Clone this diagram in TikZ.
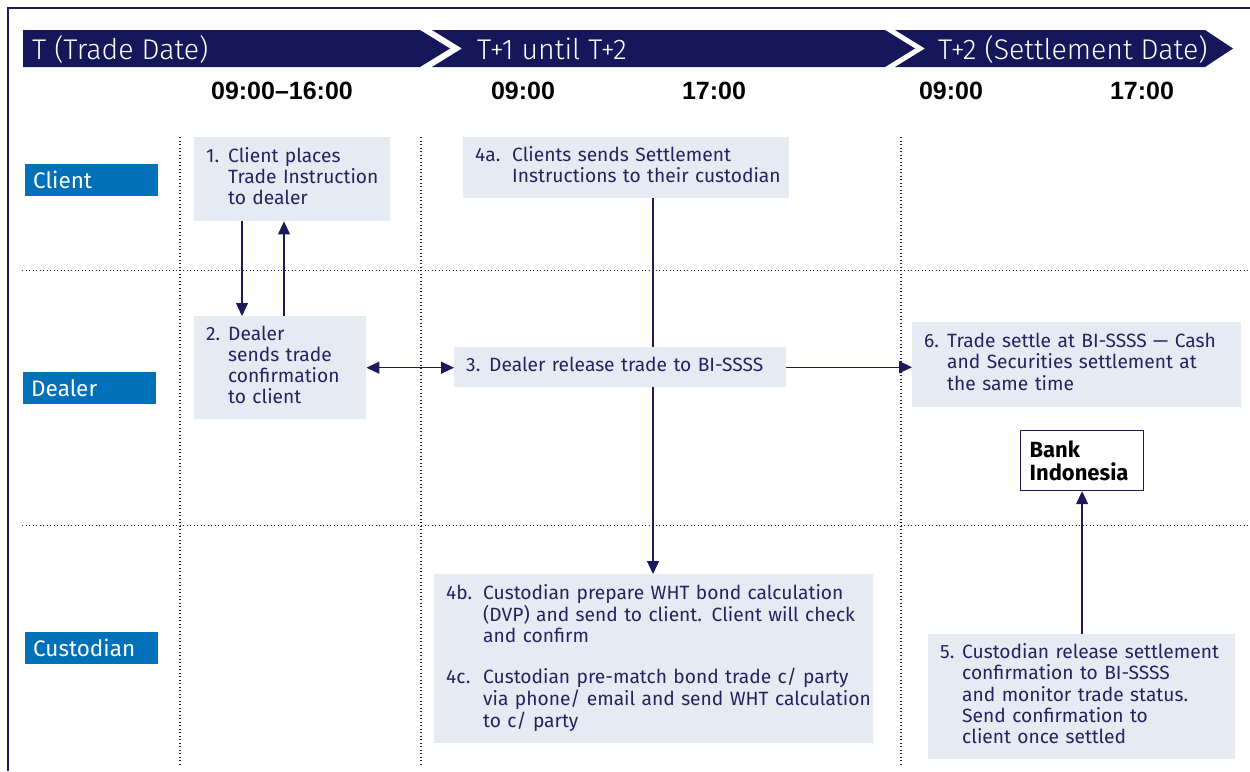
\documentclass[tikz,border=0pt]{standalone}
\usepackage{fontspec}
\setmainfont{Fira Sans}
\newfontfamily\timefont{Liberation Sans}
\newfontfamily\hdrfont{Fira Sans Light}
\usetikzlibrary{arrows.meta,backgrounds}

\definecolor{navy}{HTML}{1B1A5C}
\definecolor{barnavy}{HTML}{16175A}
\definecolor{laneblue}{HTML}{0071B9}
\definecolor{boxfill}{HTML}{E6EAF3}
\definecolor{txt}{HTML}{24235F}

% numbered text: fixed-width number column, then the lines of the item
\newcommand\numbered[3]{\makebox[#1][l]{#2}\begin{tabular}[t]{@{}l@{}}#3\end{tabular}}

\tikzset{
  frameline/.style={navy, line width=1.2pt},
  gridline/.style={navy, line width=1.1pt, dash pattern=on 1.1pt off 2.4pt},
  hdr/.style={text=white, font=\hdrfont\fontsize{28.5}{30}\selectfont, inner sep=0pt},
  timelabel/.style={font=\timefont\bfseries\fontsize{25}{28}\selectfont, inner sep=0pt, anchor=base},
  lane/.style={fill=laneblue, text=white, font=\fontsize{22.5}{24}\selectfont,
    anchor=north west, minimum height=32pt, inner xsep=8pt, inner ysep=0pt,
    text width=117pt, align=left},
  stepbox/.style={fill=boxfill, text=txt, font=\fontsize{19.2}{21}\selectfont,
    anchor=north west, inner xsep=12pt, inner ysep=0pt, align=left},
  bankbox/.style={draw=navy, line width=1.2pt, fill=white, text=black,
    font=\bfseries\fontsize{22}{23}\selectfont, anchor=north west,
    inner xsep=9pt, inner ysep=0pt, align=left, minimum height=60pt, text width=105pt},
  arr/.style={navy, line width=1.3pt, -{Triangle[length=13pt,width=12pt]}},
  darr/.style={navy, line width=1.3pt, {Triangle[length=13pt,width=12pt]}-{Triangle[length=13pt,width=12pt]}},
}

\begin{document}
\begin{tikzpicture}[x=1pt,y=-1pt]
\useasboundingbox (0,0) rectangle (1250,771);

% outer frame (left and top edges)
\draw[frameline] (8,771) -- (8,8) -- (1250,8);

% timeline header chevrons
\fill[barnavy] (23,30) -- (420,30) -- (450,48.5) -- (420,67) -- (23,67) -- cycle;
\fill[barnavy] (432,30) -- (885,30) -- (915,48.5) -- (885,67) -- (432,67) -- (462,48.5) -- cycle;
\fill[barnavy] (895,30) -- (1205,30) -- (1233,48.5) -- (1205,67) -- (895,67) -- (925,48.5) -- cycle;
\node[hdr, anchor=base west] (h1) at (32,59) {T (Trade Date)};
\node[hdr, anchor=base west] (h2) at (477,59) {T+1 until T+2};
\node[hdr, anchor=base west] (h3) at (938,59) {T+2 (Settlement Date)};

% times of day
\node[timelabel] (t1) at (282,99) {09:00–16:00};
\node[timelabel] (t2) at (523,99) {09:00};
\node[timelabel] (t3) at (714,99) {17:00};
\node[timelabel] (t4) at (951,99) {09:00};
\node[timelabel] (t5) at (1142,99) {17:00};

% swimlane grid
\draw[gridline] (180,137) -- (180,765);
\draw[gridline] (421,137) -- (421,765);
\draw[gridline] (901,137) -- (901,765);
\draw[gridline] (22,270.5) -- (1250,270.5);
\draw[gridline] (22,525.5) -- (1250,525.5);

% lane labels
\node[lane] (client) at (25,164) {Client};
\node[lane] (dealer) at (23,372) {Dealer};
\node[lane] (custodian) at (25,632) {Custodian};

% process steps
\node[stepbox, minimum height=84pt, text width=172pt] (s1) at (194,137)
  {\numbered{22pt}{1.}{Client places\\Trade Instruction\\to dealer}};
\node[stepbox, minimum height=103pt, text width=148pt] (s2) at (194,316)
  {\numbered{22pt}{2.}{Dealer\\sends trade\\confirmation\\to client}};
\node[stepbox, minimum height=61pt, text width=302pt] (s4a) at (463,137)
  {\numbered{37pt}{4a.}{Clients sends Settlement\\Instructions to their custodian}};
\node[stepbox, minimum height=40pt, text width=308pt] (s3) at (454,347)
  {\numbered{23pt}{3.}{Dealer release trade to BI-SSSS}};
\node[stepbox, minimum height=85pt, text width=305pt] (s6) at (912,322)
  {\numbered{23pt}{6.}{Trade settle at BI-SSSS — Cash\\and Securities settlement at\\the same time}};
\node[bankbox] (bank) at (1020,430) {Bank\\Indonesia};
\node[stepbox, minimum height=169pt, text width=415pt] (s4bc) at (434,574)
  {\numbered{37pt}{4b.}{Custodian prepare WHT bond calculation\\(DVP) and send to client. Client will check\\and confirm}\\[18pt]
   \numbered{37pt}{4c.}{Custodian pre-match bond trade c/ party\\via phone/ email and send WHT calculation\\to c/ party}};
\node[stepbox, minimum height=125pt, text width=283pt] (s5) at (928,634)
  {\numbered{22pt}{5.}{Custodian release settlement\\confirmation to BI-SSSS\\and monitor trade status.\\Send confirmation to\\client once settled}};

% connectors
\begin{scope}[on background layer]
  \draw[arr] ([xshift=190pt]s4a.south west) -- ([xshift=190pt]s4a.south west |- s4bc.north);
\end{scope}
\draw[arr] ([xshift=48pt]s1.south west) -- ([xshift=48pt]s2.north west);
\draw[arr] ([xshift=90pt]s2.north west) -- ([xshift=90pt]s1.south west);
\draw[darr] (s2.east) -- (s2.east -| s3.west);
\draw[arr] (s3.east) -- (s3.east -| s6.west);
\draw[arr] (bank.south |- s5.north) -- (bank.south);
\end{tikzpicture}
\end{document}
